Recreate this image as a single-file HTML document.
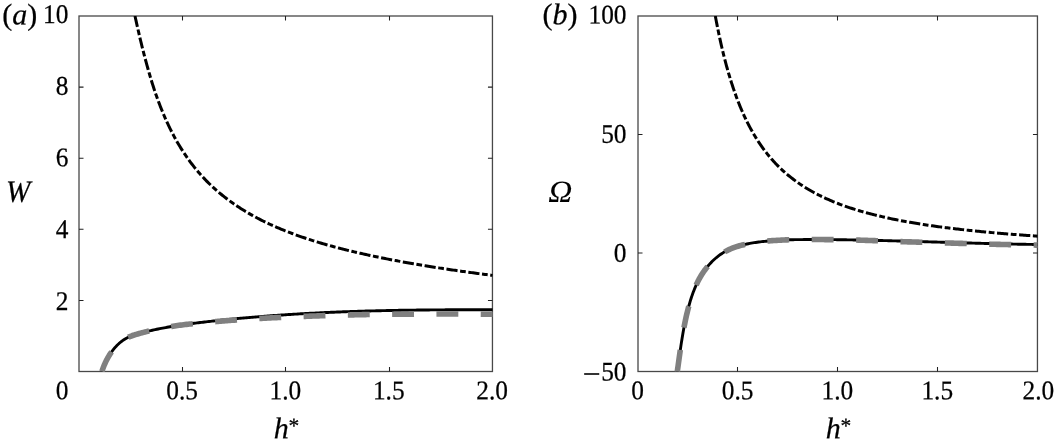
<!DOCTYPE html>
<html lang="en"><head><meta charset="utf-8"><title>Figure</title>
<style>html,body{margin:0;padding:0;background:#fff;overflow:hidden}svg{display:block}</style>
</head><body>
<svg width="1054" height="447" viewBox="0 0 1054 447">
<rect width="1054" height="447" fill="#fff"/>
<defs><clipPath id="ca"><rect x="79.00" y="16.00" width="414.05" height="355.90"/></clipPath>
<clipPath id="cb"><rect x="638.00" y="16.00" width="400.05" height="355.90"/></clipPath></defs>
<rect x="79.00" y="16.00" width="413.45" height="355.50" fill="none" stroke="#484848" stroke-width="1.3"/>
<path d="M182.50 371.50v-4.50M182.50 16.00v4.50M285.50 371.50v-4.50M285.50 16.00v4.50M389.50 371.50v-4.50M389.50 16.00v4.50M79.00 87.10h4.50M492.45 87.10h-4.50M79.00 158.20h4.50M492.45 158.20h-4.50M79.00 229.30h4.50M492.45 229.30h-4.50M79.00 300.40h4.50M492.45 300.40h-4.50" fill="none" stroke="#222" stroke-width="1.05"/>

<rect x="638.00" y="16.00" width="399.45" height="355.50" fill="none" stroke="#484848" stroke-width="1.3"/>
<path d="M737.50 371.50v-4.50M737.50 16.00v4.50M837.50 371.50v-4.50M837.50 16.00v4.50M937.50 371.50v-4.50M937.50 16.00v4.50M638.00 134.50h4.50M1037.45 134.50h-4.50M638.00 253.00h4.50M1037.45 253.00h-4.50" fill="none" stroke="#222" stroke-width="1.05"/>

<g fill="none" stroke-linejoin="round">
<g clip-path="url(#ca)">
<path d="M135.00 16.00L135.32 17.47L135.64 18.95L135.97 20.42L136.29 21.89L136.62 23.36L136.95 24.84L137.29 26.31L137.62 27.78L137.96 29.25L138.29 30.72L138.63 32.19L138.97 33.66L139.32 35.12L139.66 36.59L140.00 38.06L140.35 39.53L140.70 41.00L141.05 42.46L141.41 43.93L141.76 45.39L142.13 46.86L142.49 48.32L142.86 49.78L143.23 51.24L143.61 52.70L143.99 54.16L144.37 55.62L144.75 57.08L145.14 58.54L145.53 60.00L145.93 61.45L146.32 62.91L146.72 64.36L147.13 65.81L147.53 67.27L147.94 68.72L148.35 70.17L148.77 71.62L149.19 73.07L149.61 74.52L150.03 75.96L150.46 77.41L150.89 78.85L151.33 80.30L151.77 81.74L152.22 83.18L152.68 84.62L153.13 86.05L153.60 87.49L154.07 88.92L154.54 90.35L155.03 91.78L155.51 93.21L156.01 94.63L156.50 96.06L157.01 97.48L157.52 98.90L158.04 100.31L158.56 101.73L159.09 103.14L159.63 104.55L160.17 105.96L160.72 107.36L161.27 108.76L161.84 110.16L162.40 111.56L162.98 112.95L163.56 114.34L164.16 115.73L164.75 117.12L165.36 118.50L165.97 119.88L166.59 121.25L167.22 122.62L167.86 123.99L168.50 125.35L169.15 126.71L169.81 128.07L170.48 129.42L171.15 130.77L171.84 132.11L172.53 133.45L173.23 134.79L173.94 136.12L174.66 137.45L175.38 138.77L176.12 140.08L176.86 141.40L177.62 142.70L178.38 144.00L179.15 145.30L179.93 146.59L180.72 147.88L181.52 149.16L182.33 150.43L183.14 151.70L183.97 152.96L184.81 154.21L185.65 155.46L186.51 156.70L187.37 157.94L188.25 159.17L189.13 160.39L190.02 161.61L190.93 162.81L191.84 164.01L192.76 165.21L193.69 166.39L194.63 167.57L195.58 168.74L196.54 169.91L197.51 171.06L198.49 172.21L199.48 173.35L200.48 174.48L201.49 175.60L202.50 176.71L203.53 177.82L204.57 178.91L205.61 180.00L206.66 181.08L207.73 182.15L208.80 183.21L209.88 184.27L210.97 185.31L212.06 186.34L213.17 187.37L214.29 188.38L215.41 189.39L216.54 190.39L217.68 191.38L218.83 192.36L219.98 193.32L221.14 194.28L222.31 195.24L223.49 196.18L224.68 197.11L225.87 198.03L227.07 198.95L228.27 199.86L229.49 200.75L230.70 201.64L231.93 202.52L233.16 203.39L234.40 204.25L235.64 205.10L236.90 205.95L238.15 206.78L239.41 207.61L240.68 208.42L241.96 209.23L243.24 210.03L244.52 210.82L245.81 211.60L247.11 212.37L248.41 213.13L249.71 213.89L251.02 214.63L252.34 215.37L253.66 216.10L254.98 216.82L256.31 217.54L257.64 218.24L258.98 218.94L260.32 219.63L261.67 220.31L263.02 220.98L264.37 221.65L265.73 222.31L267.09 222.96L268.45 223.60L269.82 224.24L271.19 224.87L272.56 225.49L273.94 226.10L275.32 226.71L276.71 227.31L278.09 227.90L279.48 228.49L280.87 229.07L282.27 229.64L283.67 230.21L285.07 230.77L286.47 231.33L287.87 231.88L289.28 232.42L290.69 232.96L292.10 233.49L293.51 234.01L294.93 234.53L296.35 235.05L297.77 235.56L299.19 236.06L300.61 236.56L302.04 237.05L303.46 237.54L304.89 238.02L306.32 238.50L307.75 238.97L309.19 239.44L310.62 239.91L312.06 240.36L313.50 240.82L314.94 241.27L316.38 241.71L317.82 242.15L319.27 242.59L320.71 243.02L322.16 243.45L323.60 243.87L325.05 244.29L326.50 244.70L327.95 245.11L329.41 245.52L330.86 245.92L332.31 246.32L333.77 246.72L335.23 247.11L336.68 247.50L338.14 247.88L339.60 248.26L341.06 248.64L342.52 249.01L343.98 249.38L345.45 249.75L346.91 250.11L348.38 250.47L349.84 250.83L351.31 251.18L352.77 251.54L354.24 251.88L355.71 252.23L357.18 252.57L358.65 252.91L360.12 253.25L361.59 253.58L363.06 253.91L364.53 254.24L366.00 254.56L367.48 254.89L368.95 255.21L370.43 255.52L371.90 255.84L373.38 256.15L374.85 256.46L376.33 256.77L377.80 257.07L379.28 257.38L380.76 257.68L382.24 257.98L383.72 258.27L385.20 258.57L386.68 258.86L388.16 259.15L389.64 259.43L391.12 259.72L392.60 260.00L394.08 260.28L395.56 260.56L397.04 260.84L398.53 261.11L400.01 261.39L401.49 261.66L402.98 261.93L404.46 262.20L405.95 262.46L407.43 262.72L408.92 262.99L410.40 263.25L411.89 263.50L413.37 263.76L414.86 264.02L416.35 264.27L417.83 264.52L419.32 264.77L420.81 265.02L422.30 265.27L423.79 265.51L425.27 265.75L426.76 266.00L428.25 266.24L429.74 266.48L431.23 266.71L432.72 266.95L434.21 267.18L435.70 267.42L437.19 267.65L438.68 267.88L440.17 268.11L441.66 268.34L443.15 268.56L444.64 268.79L446.13 269.01L447.63 269.23L449.12 269.46L450.61 269.68L452.10 269.89L453.59 270.11L455.09 270.33L456.58 270.54L458.07 270.76L459.57 270.97L461.06 271.18L462.55 271.39L464.05 271.60L465.54 271.81L467.03 272.02L468.53 272.22L470.02 272.43L471.52 272.63L473.01 272.83L474.50 273.03L476.00 273.24L477.49 273.44L478.99 273.63L480.48 273.83L481.98 274.03L483.48 274.22L484.97 274.42L486.47 274.61L487.96 274.80L489.46 275.00L490.95 275.19L492.45 275.38" stroke="#000" stroke-width="3" stroke-dasharray="11.2 2.6 5.71 2.6"/>
<path d="M101.89 371.47L102.37 370.04L102.88 368.61L103.41 367.20L103.97 365.80L104.56 364.41L105.17 363.03L105.82 361.66L106.49 360.31L107.19 358.97L107.91 357.65L108.67 356.34L109.46 355.05L110.27 353.78L111.12 352.53L112.00 351.30L112.91 350.10L113.85 348.92L114.83 347.77L115.84 346.64L116.88 345.55L117.96 344.49L119.06 343.47L120.21 342.48L121.38 341.53L122.59 340.63L123.84 339.77L125.11 338.97L126.42 338.21L127.76 337.52L129.13 336.88L130.52 336.29L131.93 335.76L133.36 335.27L134.80 334.80L136.24 334.37L137.70 333.95L139.15 333.54L140.61 333.14L142.06 332.75L143.53 332.37L144.99 331.99L146.45 331.63L147.92 331.27L149.39 330.92L150.86 330.58L152.33 330.24L153.81 329.92L155.28 329.60L156.76 329.29L158.24 328.98L159.72 328.68L161.20 328.39L162.68 328.10L164.17 327.83L165.65 327.55L167.14 327.29L168.63 327.02L170.12 326.77L171.60 326.52L173.09 326.27L174.59 326.03L176.08 325.80L177.57 325.57L179.06 325.34L180.56 325.12L182.05 324.90L183.55 324.69L185.04 324.48L186.54 324.27L188.03 324.07L189.53 323.87L191.03 323.68L192.53 323.48L194.02 323.29L195.52 323.10L197.02 322.92L198.52 322.74L200.02 322.56L201.52 322.38L203.02 322.20L204.52 322.02L206.02 321.85L207.52 321.68L209.02 321.51L210.52 321.34L212.02 321.17L213.52 321.00L215.02 320.84L216.52 320.68L218.02 320.52L219.53 320.36L221.03 320.20L222.53 320.04L224.03 319.89L225.53 319.73L227.04 319.58L228.54 319.43L230.04 319.28L231.54 319.13L233.05 318.98L234.55 318.84L236.05 318.70L237.56 318.55L239.06 318.41L240.56 318.27L242.07 318.14L243.57 318.00L245.08 317.87L246.58 317.73L248.08 317.60L249.59 317.47L251.09 317.34L252.60 317.21L254.10 317.09L255.61 316.96L257.11 316.84L258.62 316.72L260.12 316.59L261.63 316.47L263.13 316.36L264.64 316.24L266.15 316.12L267.65 316.01L269.16 315.90L270.66 315.78L272.17 315.67L273.67 315.57L275.18 315.46L276.69 315.35L278.19 315.25L279.70 315.14L281.21 315.04L282.71 314.94L284.22 314.84L285.73 314.74L287.23 314.64L288.74 314.54L290.25 314.45L291.76 314.35L293.26 314.26L294.77 314.17L296.28 314.08L297.78 313.99L299.29 313.90L300.80 313.81L302.31 313.73L303.82 313.64L305.32 313.56L306.83 313.48L308.34 313.40L309.85 313.32L311.35 313.24L312.86 313.16L314.37 313.08L315.88 313.01L317.39 312.93L318.90 312.86L320.40 312.79L321.91 312.71L323.42 312.64L324.93 312.57L326.44 312.51L327.95 312.44L329.45 312.37L330.96 312.31L332.47 312.24L333.98 312.18L335.49 312.12L337.00 312.06L338.51 312.00L340.02 311.94L341.53 311.88L343.03 311.82L344.54 311.77L346.05 311.71L347.56 311.66L349.07 311.60L350.58 311.55L352.09 311.50L353.60 311.45L355.11 311.40L356.62 311.35L358.13 311.30L359.64 311.25L361.14 311.21L362.65 311.16L364.16 311.12L365.67 311.07L367.18 311.03L368.69 310.99L370.20 310.95L371.71 310.91L373.22 310.87L374.73 310.83L376.24 310.79L377.75 310.76L379.26 310.72L380.77 310.69L382.28 310.65L383.79 310.62L385.30 310.58L386.81 310.55L388.32 310.52L389.83 310.49L391.34 310.46L392.85 310.43L394.36 310.40L395.87 310.37L397.38 310.35L398.89 310.32L400.40 310.30L401.91 310.27L403.42 310.25L404.93 310.22L406.44 310.20L407.95 310.18L409.46 310.16L410.97 310.14L412.48 310.12L413.99 310.10L415.50 310.08L417.01 310.06L418.52 310.04L420.03 310.02L421.54 310.01L423.05 309.99L424.56 309.98L426.07 309.96L427.58 309.95L429.09 309.93L430.60 309.92L432.11 309.91L433.62 309.90L435.13 309.89L436.64 309.88L438.15 309.86L439.66 309.86L441.17 309.85L442.68 309.84L444.19 309.83L445.70 309.82L447.21 309.81L448.72 309.81L450.23 309.80L451.74 309.80L453.25 309.79L454.76 309.78L456.27 309.78L457.78 309.78L459.29 309.77L460.80 309.77L462.31 309.77L463.82 309.76L465.33 309.76L466.84 309.76L468.35 309.76L469.86 309.76L471.37 309.76L472.88 309.76L474.39 309.76L475.90 309.76L477.41 309.76L478.92 309.76L480.43 309.76L481.94 309.77L483.45 309.77L484.96 309.77L486.47 309.77L487.98 309.78L489.49 309.78L491.00 309.78L492.51 309.79" stroke="#000" stroke-width="2.9"/>
<path d="M101.89 371.47L102.37 370.04L102.88 368.61L103.41 367.20L103.97 365.80L104.56 364.41L105.17 363.03L105.82 361.66L106.49 360.31L107.19 358.97L107.91 357.65L108.67 356.34L109.46 355.05L110.27 353.78L111.12 352.53L112.00 351.30L112.91 350.10L113.85 348.92L114.83 347.77L115.84 346.64L116.88 345.55L117.96 344.49L119.06 343.47L120.21 342.48L121.38 341.53L122.59 340.63L123.84 339.77L125.11 338.97L126.42 338.21L127.76 337.52L129.13 336.88L130.52 336.29L131.93 335.76L133.36 335.27L134.80 334.80L136.24 334.37L137.70 333.95L139.15 333.54L140.61 333.14L142.06 332.75L143.53 332.37L144.99 331.99L146.45 331.63L147.92 331.27L149.39 330.92L150.86 330.58L152.33 330.24L153.81 329.92L155.28 329.60L156.76 329.29L158.24 328.98L159.72 328.68L161.20 328.39L162.68 328.10L164.17 327.83L165.65 327.55L167.14 327.29L168.63 327.02L170.12 326.77L171.60 326.52L173.09 326.27L174.59 326.03L176.08 325.80L177.57 325.57L179.06 325.34L180.56 325.12L182.05 324.92L183.55 324.73L185.04 324.55L186.54 324.39L188.03 324.23L189.53 324.08L191.03 323.92L192.53 323.77L194.02 323.62L195.52 323.46L197.02 323.31L198.52 323.16L200.02 323.02L201.52 322.87L203.02 322.73L204.52 322.59L206.02 322.45L207.52 322.31L209.02 322.17L210.52 322.04L212.02 321.90L213.52 321.77L215.02 321.64L216.52 321.51L218.02 321.39L219.53 321.26L221.03 321.14L222.53 321.02L224.03 320.90L225.53 320.78L227.04 320.66L228.54 320.55L230.04 320.43L231.54 320.32L233.05 320.21L234.55 320.10L236.05 320.00L237.56 319.89L239.06 319.79L240.56 319.68L242.07 319.58L243.57 319.48L245.08 319.38L246.58 319.29L248.08 319.19L249.59 319.10L251.09 319.01L252.60 318.92L254.10 318.83L255.61 318.74L257.11 318.65L258.62 318.56L260.12 318.48L261.63 318.39L263.13 318.31L264.64 318.22L266.15 318.14L267.65 318.06L269.16 317.98L270.66 317.90L272.17 317.82L273.67 317.74L275.18 317.66L276.69 317.59L278.19 317.51L279.70 317.44L281.21 317.37L282.71 317.29L284.22 317.22L285.73 317.15L287.23 317.08L288.74 317.02L290.25 316.95L291.76 316.88L293.26 316.82L294.77 316.75L296.28 316.69L297.78 316.63L299.29 316.57L300.80 316.50L302.31 316.44L303.82 316.38L305.32 316.33L306.83 316.27L308.34 316.21L309.85 316.15L311.35 316.10L312.86 316.04L314.37 315.99L315.88 315.93L317.39 315.88L318.90 315.83L320.40 315.77L321.91 315.72L323.42 315.67L324.93 315.62L326.44 315.57L327.95 315.53L329.45 315.48L330.96 315.43L332.47 315.38L333.98 315.34L335.49 315.30L337.00 315.25L338.51 315.21L340.02 315.17L341.53 315.13L343.03 315.09L344.54 315.05L346.05 315.01L347.56 314.97L349.07 314.94L350.58 314.90L352.09 314.87L353.60 314.83L355.11 314.80L356.62 314.77L358.13 314.74L359.64 314.71L361.14 314.68L362.65 314.65L364.16 314.62L365.67 314.60L367.18 314.57L368.69 314.55L370.20 314.52L371.71 314.50L373.22 314.48L374.73 314.46L376.24 314.44L377.75 314.42L379.26 314.40L380.77 314.38L382.28 314.36L383.79 314.34L385.30 314.33L386.81 314.31L388.32 314.29L389.83 314.28L391.34 314.26L392.85 314.25L394.36 314.23L395.87 314.22L397.38 314.21L398.89 314.20L400.40 314.18L401.91 314.17L403.42 314.16L404.93 314.15L406.44 314.14L407.95 314.13L409.46 314.12L410.97 314.11L412.48 314.10L413.99 314.09L415.50 314.08L417.01 314.07L418.52 314.06L420.03 314.06L421.54 314.05L423.05 314.05L424.56 314.04L426.07 314.03L427.58 314.03L429.09 314.03L430.60 314.02L432.11 314.02L433.62 314.02L435.13 314.02L436.64 314.01L438.15 314.01L439.66 314.01L441.17 314.01L442.68 314.02L444.19 314.02L445.70 314.02L447.21 314.02L448.72 314.03L450.23 314.03L451.74 314.03L453.25 314.04L454.76 314.04L456.27 314.05L457.78 314.05L459.29 314.06L460.80 314.07L462.31 314.07L463.82 314.08L465.33 314.09L466.84 314.10L468.35 314.11L469.86 314.12L471.37 314.12L472.88 314.13L474.39 314.14L475.90 314.15L477.41 314.17L478.92 314.18L480.43 314.19L481.94 314.20L483.45 314.21L484.96 314.22L486.47 314.24L487.98 314.25L489.49 314.26L491.00 314.27L492.51 314.29" stroke="#808080" stroke-width="5.6" stroke-dasharray="21.9 22.4"/>
</g>
<g clip-path="url(#cb)">
<path d="M715.33 16.00L715.60 17.48L715.88 18.97L716.16 20.45L716.44 21.93L716.73 23.41L717.02 24.89L717.31 26.37L717.61 27.85L717.91 29.33L718.21 30.81L718.51 32.29L718.82 33.76L719.13 35.24L719.45 36.72L719.77 38.19L720.09 39.67L720.41 41.14L720.74 42.61L721.08 44.08L721.41 45.55L721.75 47.02L722.10 48.49L722.45 49.96L722.80 51.43L723.15 52.89L723.51 54.36L723.88 55.82L724.25 57.29L724.62 58.75L725.00 60.21L725.38 61.67L725.77 63.13L726.16 64.58L726.55 66.04L726.96 67.49L727.36 68.95L727.77 70.40L728.19 71.85L728.61 73.30L729.04 74.75L729.47 76.19L729.91 77.63L730.35 79.08L730.80 80.52L731.25 81.96L731.71 83.39L732.18 84.83L732.65 86.26L733.13 87.69L733.61 89.12L734.10 90.55L734.60 91.97L735.11 93.39L735.62 94.81L736.13 96.23L736.66 97.65L737.19 99.06L737.73 100.47L738.28 101.87L738.83 103.28L739.39 104.68L739.96 106.07L740.54 107.47L741.12 108.86L741.72 110.25L742.32 111.63L742.93 113.01L743.55 114.39L744.17 115.76L744.81 117.13L745.45 118.49L746.11 119.85L746.77 121.21L747.44 122.56L748.13 123.90L748.82 125.24L749.52 126.58L750.23 127.91L750.95 129.24L751.68 130.56L752.42 131.87L753.17 133.18L753.93 134.48L754.71 135.78L755.49 137.07L756.28 138.35L757.09 139.63L757.90 140.90L758.73 142.16L759.57 143.41L760.42 144.66L761.28 145.90L762.15 147.13L763.03 148.35L763.93 149.57L764.83 150.78L765.75 151.97L766.68 153.16L767.62 154.34L768.57 155.51L769.54 156.67L770.51 157.82L771.50 158.96L772.50 160.10L773.51 161.22L774.53 162.33L775.56 163.43L776.61 164.52L777.66 165.59L778.73 166.66L779.81 167.72L780.90 168.76L781.99 169.79L783.11 170.82L784.23 171.83L785.36 172.82L786.50 173.81L787.65 174.79L788.81 175.75L789.98 176.70L791.17 177.64L792.36 178.56L793.56 179.48L794.77 180.38L795.98 181.27L797.21 182.15L798.45 183.01L799.69 183.87L800.94 184.71L802.20 185.54L803.47 186.36L804.75 187.16L806.03 187.96L807.32 188.74L808.62 189.51L809.92 190.27L811.23 191.02L812.55 191.75L813.87 192.48L815.20 193.19L816.54 193.89L817.88 194.59L819.22 195.27L820.57 195.94L821.93 196.60L823.29 197.25L824.66 197.89L826.03 198.52L827.41 199.13L828.79 199.74L830.17 200.34L831.56 200.93L832.95 201.51L834.35 202.09L835.75 202.65L837.15 203.20L838.56 203.74L839.97 204.28L841.38 204.81L842.80 205.33L844.22 205.84L845.64 206.34L847.07 206.83L848.50 207.32L849.93 207.80L851.36 208.27L852.80 208.74L854.24 209.19L855.68 209.64L857.12 210.08L858.56 210.52L860.01 210.95L861.46 211.37L862.91 211.79L864.36 212.20L865.81 212.60L867.27 213.00L868.73 213.39L870.19 213.77L871.65 214.15L873.11 214.53L874.57 214.90L876.04 215.26L877.50 215.62L878.97 215.97L880.44 216.31L881.91 216.66L883.38 216.99L884.85 217.32L886.32 217.65L887.80 217.97L889.27 218.29L890.75 218.60L892.22 218.91L893.70 219.22L895.18 219.52L896.66 219.81L898.14 220.10L899.62 220.39L901.10 220.68L902.59 220.96L904.07 221.23L905.55 221.50L907.04 221.77L908.52 222.04L910.01 222.30L911.50 222.56L912.98 222.81L914.47 223.06L915.96 223.31L917.45 223.55L918.94 223.79L920.43 224.03L921.92 224.27L923.41 224.50L924.90 224.73L926.39 224.96L927.88 225.18L929.38 225.40L930.87 225.62L932.36 225.83L933.86 226.04L935.35 226.25L936.84 226.46L938.34 226.66L939.83 226.87L941.33 227.07L942.83 227.26L944.32 227.46L945.82 227.65L947.32 227.84L948.81 228.03L950.31 228.21L951.81 228.40L953.31 228.58L954.80 228.76L956.30 228.93L957.80 229.11L959.30 229.28L960.80 229.45L962.30 229.62L963.80 229.79L965.30 229.95L966.80 230.12L968.30 230.28L969.80 230.44L971.30 230.60L972.80 230.75L974.30 230.91L975.80 231.06L977.30 231.21L978.80 231.36L980.30 231.51L981.81 231.65L983.31 231.80L984.81 231.94L986.31 232.08L987.81 232.22L989.32 232.36L990.82 232.50L992.32 232.63L993.83 232.77L995.33 232.90L996.83 233.03L998.33 233.16L999.84 233.29L1001.34 233.42L1002.84 233.54L1004.35 233.67L1005.85 233.79L1007.36 233.91L1008.86 234.04L1010.36 234.16L1011.87 234.27L1013.37 234.39L1014.88 234.51L1016.38 234.62L1017.88 234.74L1019.39 234.85L1020.89 234.96L1022.40 235.07L1023.90 235.18L1025.41 235.29L1026.91 235.40L1028.42 235.51L1029.92 235.61L1031.43 235.72L1032.93 235.82L1034.44 235.92L1035.94 236.03L1037.45 236.13" stroke="#000" stroke-width="3" stroke-dasharray="11.2 2.6 5.74 2.6"/>
<path d="M677.30 371.50L677.50 370.00L677.71 368.51L677.92 367.02L678.13 365.52L678.33 364.03L678.54 362.53L678.75 361.04L678.95 359.55L679.16 358.05L679.37 356.56L679.58 355.07L679.79 353.57L680.00 352.08L680.21 350.59L680.43 349.09L680.65 347.60L680.87 346.11L681.09 344.62L681.32 343.13L681.55 341.64L681.79 340.15L682.03 338.66L682.27 337.17L682.52 335.68L682.77 334.20L683.02 332.71L683.29 331.23L683.55 329.74L683.83 328.26L684.11 326.78L684.39 325.30L684.69 323.82L684.99 322.34L685.29 320.86L685.61 319.39L685.93 317.92L686.26 316.44L686.59 314.97L686.94 313.51L687.29 312.04L687.65 310.58L688.03 309.12L688.41 307.66L688.80 306.20L689.20 304.75L689.61 303.29L690.03 301.85L690.46 300.40L690.91 298.96L691.37 297.53L691.85 296.10L692.35 294.67L692.86 293.25L693.39 291.84L693.94 290.44L694.50 289.04L695.07 287.64L695.66 286.26L696.27 284.88L696.90 283.50L697.55 282.14L698.22 280.80L698.92 279.46L699.65 278.14L700.39 276.83L701.17 275.53L701.96 274.25L702.78 272.99L703.62 271.74L704.49 270.50L705.38 269.29L706.30 268.09L707.24 266.91L708.20 265.75L709.19 264.61L710.20 263.49L711.23 262.39L712.29 261.32L713.38 260.27L714.48 259.24L715.61 258.25L716.77 257.28L717.95 256.34L719.15 255.42L720.37 254.54L721.62 253.70L722.89 252.88L724.18 252.10L725.49 251.36L726.83 250.66L728.18 249.99L729.54 249.35L730.93 248.75L732.32 248.18L733.73 247.65L735.15 247.14L736.58 246.66L738.02 246.21L739.47 245.79L740.92 245.39L742.38 245.01L743.85 244.66L745.32 244.32L746.79 244.01L748.27 243.71L749.76 243.44L751.24 243.17L752.73 242.92L754.22 242.69L755.71 242.47L757.20 242.25L758.70 242.05L760.19 241.86L761.69 241.68L763.19 241.51L764.69 241.34L766.19 241.19L767.69 241.04L769.19 240.91L770.69 240.78L772.19 240.66L773.70 240.55L775.20 240.45L776.71 240.35L778.21 240.26L779.72 240.18L781.22 240.10L782.73 240.03L784.24 239.97L785.74 239.91L787.25 239.86L788.76 239.81L790.27 239.77L791.77 239.74L793.28 239.70L794.79 239.67L796.30 239.65L797.80 239.63L799.31 239.61L800.82 239.59L802.33 239.58L803.84 239.57L805.34 239.56L806.85 239.55L808.36 239.55L809.87 239.55L811.38 239.54L812.88 239.54L814.39 239.54L815.90 239.54L817.41 239.55L818.92 239.55L820.42 239.56L821.93 239.56L823.44 239.57L824.95 239.58L826.46 239.59L827.96 239.60L829.47 239.61L830.98 239.62L832.49 239.64L834.00 239.65L835.50 239.67L837.01 239.68L838.52 239.70L840.03 239.72L841.53 239.74L843.04 239.76L844.55 239.78L846.06 239.81L847.57 239.83L849.07 239.85L850.58 239.88L852.09 239.91L853.60 239.93L855.10 239.96L856.61 239.99L858.12 240.02L859.63 240.05L861.14 240.08L862.64 240.11L864.15 240.14L865.66 240.17L867.17 240.20L868.67 240.23L870.18 240.27L871.69 240.30L873.20 240.34L874.70 240.37L876.21 240.41L877.72 240.44L879.23 240.48L880.73 240.52L882.24 240.55L883.75 240.59L885.26 240.63L886.76 240.67L888.27 240.71L889.78 240.75L891.29 240.79L892.79 240.83L894.30 240.87L895.81 240.91L897.32 240.95L898.82 240.99L900.33 241.03L901.84 241.07L903.35 241.11L904.85 241.15L906.36 241.20L907.87 241.24L909.37 241.28L910.88 241.32L912.39 241.37L913.90 241.41L915.40 241.45L916.91 241.50L918.42 241.54L919.93 241.58L921.43 241.63L922.94 241.67L924.45 241.72L925.96 241.76L927.46 241.80L928.97 241.85L930.48 241.89L931.98 241.94L933.49 241.98L935.00 242.03L936.51 242.07L938.01 242.11L939.52 242.16L941.03 242.20L942.54 242.25L944.04 242.29L945.55 242.34L947.06 242.38L948.57 242.42L950.07 242.47L951.58 242.51L953.09 242.56L954.59 242.60L956.10 242.64L957.61 242.69L959.12 242.73L960.62 242.77L962.13 242.82L963.64 242.86L965.15 242.90L966.65 242.94L968.16 242.99L969.67 243.03L971.18 243.07L972.68 243.11L974.19 243.15L975.70 243.19L977.20 243.23L978.71 243.27L980.22 243.31L981.73 243.35L983.23 243.39L984.74 243.43L986.25 243.47L987.76 243.51L989.26 243.55L990.77 243.58L992.28 243.62L993.79 243.66L995.29 243.69L996.80 243.73L998.31 243.76L999.82 243.80L1001.32 243.83L1002.83 243.87L1004.34 243.90L1005.85 243.93L1007.36 243.97L1008.86 244.00L1010.37 244.03L1011.88 244.06L1013.39 244.09L1014.89 244.12L1016.40 244.15L1017.91 244.18L1019.42 244.21L1020.92 244.24L1022.43 244.26L1023.94 244.29L1025.45 244.32L1026.96 244.34L1028.46 244.37L1029.97 244.39L1031.48 244.41L1032.99 244.44L1034.49 244.46L1036.00 244.48L1037.51 244.50" stroke="#000" stroke-width="2.9"/>
<path d="M677.30 371.50L677.50 370.00L677.71 368.51L677.92 367.02L678.13 365.52L678.33 364.03L678.54 362.53L678.75 361.04L678.95 359.55L679.16 358.05L679.37 356.56L679.58 355.07L679.79 353.57L680.00 352.08L680.21 350.59L680.43 349.09L680.65 347.60L680.87 346.11L681.09 344.62L681.32 343.13L681.55 341.64L681.79 340.15L682.03 338.66L682.27 337.17L682.52 335.68L682.77 334.20L683.02 332.71L683.29 331.23L683.55 329.74L683.83 328.26L684.11 326.78L684.39 325.30L684.69 323.82L684.99 322.34L685.29 320.86L685.61 319.39L685.93 317.92L686.26 316.44L686.59 314.97L686.94 313.51L687.29 312.04L687.65 310.58L688.03 309.12L688.41 307.66L688.80 306.20L689.20 304.75L689.61 303.29L690.03 301.85L690.46 300.40L690.91 298.96L691.37 297.53L691.85 296.10L692.35 294.67L692.86 293.25L693.39 291.84L693.94 290.44L694.50 289.04L695.07 287.64L695.66 286.26L696.27 284.88L696.90 283.50L697.55 282.14L698.22 280.80L698.92 279.46L699.65 278.14L700.39 276.83L701.17 275.53L701.96 274.25L702.78 272.99L703.62 271.74L704.49 270.50L705.38 269.29L706.30 268.09L707.24 266.91L708.20 265.75L709.19 264.61L710.20 263.49L711.23 262.39L712.29 261.32L713.38 260.27L714.48 259.24L715.61 258.25L716.77 257.28L717.95 256.34L719.15 255.42L720.37 254.54L721.62 253.70L722.89 252.88L724.18 252.10L725.49 251.36L726.83 250.66L728.18 249.99L729.54 249.35L730.93 248.75L732.32 248.18L733.73 247.65L735.15 247.14L736.58 246.66L738.02 246.21L739.47 245.79L740.92 245.39L742.38 245.01L743.85 244.66L745.32 244.32L746.79 244.01L748.27 243.71L749.76 243.44L751.24 243.17L752.73 242.92L754.22 242.69L755.71 242.47L757.20 242.25L758.70 242.05L760.19 241.86L761.69 241.68L763.19 241.51L764.69 241.34L766.19 241.19L767.69 241.04L769.19 240.91L770.69 240.78L772.19 240.66L773.70 240.55L775.20 240.45L776.71 240.35L778.21 240.26L779.72 240.18L781.22 240.10L782.73 240.03L784.24 239.97L785.74 239.91L787.25 239.86L788.76 239.81L790.27 239.77L791.77 239.74L793.28 239.70L794.79 239.67L796.30 239.65L797.80 239.63L799.31 239.61L800.82 239.59L802.33 239.58L803.84 239.57L805.34 239.56L806.85 239.55L808.36 239.55L809.87 239.55L811.38 239.54L812.88 239.54L814.39 239.54L815.90 239.54L817.41 239.55L818.92 239.55L820.42 239.56L821.93 239.56L823.44 239.57L824.95 239.58L826.46 239.59L827.96 239.60L829.47 239.61L830.98 239.62L832.49 239.64L834.00 239.65L835.50 239.67L837.01 239.68L838.52 239.70L840.03 239.72L841.53 239.74L843.04 239.76L844.55 239.78L846.06 239.81L847.57 239.83L849.07 239.85L850.58 239.89L852.09 239.93L853.60 239.97L855.10 240.02L856.61 240.07L858.12 240.11L859.63 240.16L861.14 240.21L862.64 240.26L864.15 240.31L865.66 240.36L867.17 240.41L868.67 240.46L870.18 240.51L871.69 240.56L873.20 240.62L874.70 240.67L876.21 240.72L877.72 240.78L879.23 240.83L880.73 240.89L882.24 240.94L883.75 241.00L885.26 241.05L886.76 241.11L888.27 241.17L889.78 241.22L891.29 241.28L892.79 241.34L894.30 241.40L895.81 241.46L897.32 241.51L898.82 241.57L900.33 241.63L901.84 241.67L903.35 241.71L904.85 241.75L906.36 241.80L907.87 241.84L909.37 241.88L910.88 241.92L912.39 241.97L913.90 242.01L915.40 242.05L916.91 242.10L918.42 242.14L919.93 242.18L921.43 242.23L922.94 242.27L924.45 242.32L925.96 242.36L927.46 242.40L928.97 242.45L930.48 242.49L931.98 242.54L933.49 242.58L935.00 242.63L936.51 242.67L938.01 242.71L939.52 242.76L941.03 242.80L942.54 242.85L944.04 242.89L945.55 242.94L947.06 242.98L948.57 243.02L950.07 243.07L951.58 243.11L953.09 243.16L954.59 243.20L956.10 243.24L957.61 243.29L959.12 243.33L960.62 243.37L962.13 243.42L963.64 243.46L965.15 243.50L966.65 243.54L968.16 243.59L969.67 243.63L971.18 243.67L972.68 243.71L974.19 243.75L975.70 243.79L977.20 243.83L978.71 243.87L980.22 243.91L981.73 243.95L983.23 243.99L984.74 244.03L986.25 244.07L987.76 244.11L989.26 244.15L990.77 244.18L992.28 244.22L993.79 244.26L995.29 244.29L996.80 244.33L998.31 244.36L999.82 244.40L1001.32 244.43L1002.83 244.47L1004.34 244.50L1005.85 244.53L1007.36 244.57L1008.86 244.60L1010.37 244.63L1011.88 244.66L1013.39 244.69L1014.89 244.72L1016.40 244.75L1017.91 244.78L1019.42 244.81L1020.92 244.84L1022.43 244.86L1023.94 244.89L1025.45 244.92L1026.96 244.94L1028.46 244.97L1029.97 244.99L1031.48 245.01L1032.99 245.04L1034.49 245.06L1036.00 245.08L1037.51 245.10" stroke="#808080" stroke-width="5.6" stroke-dasharray="21.9 22.5"/>
</g>
</g>
<g font-family="'Liberation Serif', 'Times New Roman', Times, serif" font-size="26.9" fill="#000" stroke="#000" stroke-width="0.25">
<text transform="translate(2.20,24.60) rotate(0.05) scale(1.000,1)" text-anchor="start" font-size="30">(<tspan font-style="italic">a</tspan>)</text>
<text transform="translate(542.60,24.20) rotate(0.05) scale(1.000,1)" text-anchor="start" font-size="30">(<tspan font-style="italic">b</tspan>)</text>
<text transform="translate(68.40,23.00) rotate(0.05) scale(0.942,1)" text-anchor="end">10</text>
<text transform="translate(68.40,94.70) rotate(0.05) scale(0.942,1)" text-anchor="end">8</text>
<text transform="translate(68.40,166.20) rotate(0.05) scale(0.942,1)" text-anchor="end">6</text>
<text transform="translate(68.40,237.90) rotate(0.05) scale(0.942,1)" text-anchor="end">4</text>
<text transform="translate(68.40,309.90) rotate(0.05) scale(0.942,1)" text-anchor="end">2</text>
<text transform="translate(68.40,399.35) rotate(0.05) scale(0.942,1)" text-anchor="end">0</text>
<text transform="translate(182.06,399.35) rotate(0.05) scale(0.942,1)" text-anchor="middle">0.5</text>
<text transform="translate(285.43,399.35) rotate(0.05) scale(0.942,1)" text-anchor="middle">1.0</text>
<text transform="translate(388.79,399.35) rotate(0.05) scale(0.942,1)" text-anchor="middle">1.5</text>
<text transform="translate(492.15,399.35) rotate(0.05) scale(0.942,1)" text-anchor="middle">2.0</text>
<text transform="translate(6.00,201.70) rotate(0.05) scale(0.940,1)" text-anchor="start" font-style="italic" font-size="31">W</text>
<text transform="translate(273.80,438.20) rotate(0.05) scale(1.000,1)" text-anchor="start" font-size="30"><tspan font-style="italic">h</tspan><tspan font-size="21.5" dx="-0.4" dy="-5.4">*</tspan></text>
<text transform="translate(626.50,23.50) rotate(0.05) scale(0.942,1)" text-anchor="end">100</text>
<text transform="translate(626.50,142.70) rotate(0.05) scale(0.942,1)" text-anchor="end">50</text>
<text transform="translate(626.50,261.80) rotate(0.05) scale(0.942,1)" text-anchor="end">0</text>
<text transform="translate(626.50,380.60) rotate(0.05) scale(0.942,1)" text-anchor="end">50</text>
<text transform="translate(582.70,382.50) rotate(0.05) scale(1.236,1)" text-anchor="start" font-size="25.6">−</text>
<text transform="translate(637.70,399.35) rotate(0.05) scale(0.942,1)" text-anchor="middle">0</text>
<text transform="translate(737.56,399.35) rotate(0.05) scale(0.942,1)" text-anchor="middle">0.5</text>
<text transform="translate(837.43,399.35) rotate(0.05) scale(0.942,1)" text-anchor="middle">1.0</text>
<text transform="translate(937.29,399.35) rotate(0.05) scale(0.942,1)" text-anchor="middle">1.5</text>
<text transform="translate(1038.35,399.35) rotate(0.05) scale(0.942,1)" text-anchor="middle">2.0</text>
<text transform="translate(548.20,202.00) rotate(0.05) scale(1.075,1)" text-anchor="start" font-style="italic" font-size="31" stroke-width="0.05">Ω</text>
<text transform="translate(825.80,438.20) rotate(0.05) scale(1.000,1)" text-anchor="start" font-size="30"><tspan font-style="italic">h</tspan><tspan font-size="21.5" dx="-0.4" dy="-5.4">*</tspan></text>
</g>
</svg>
</body></html>
